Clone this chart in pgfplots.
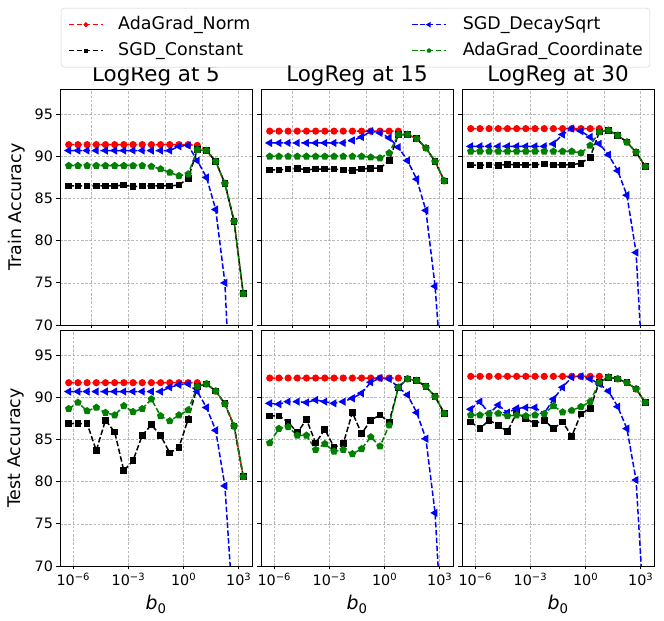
\documentclass[border=0pt]{standalone}
\usepackage{pgfplots}
\pgfplotsset{compat=1.18}
\usepackage{pgfplotstable}
\usepgfplotslibrary{groupplots}
\usetikzlibrary{plotmarks}
\usepackage{fontspec}
\setmainfont{DejaVu Sans}
\definecolor{mplgreen}{RGB}{0,128,0}
\definecolor{mplblue}{RGB}{0,0,255}
\definecolor{mplred}{RGB}{255,0,0}

% x = log10(b0); columns: AdaGrad_Norm (r), SGD_Constant (k), SGD_DecaySqrt (b), AdaGrad_Coordinate (g)
\pgfplotstableread{
x     r     k     b     g
-6.25 91.4  86.5  90.7  88.9
-5.75 91.4  86.5  90.7  88.9
-5.25 91.4  86.5  90.7  88.9
-4.75 91.4  86.5  90.7  88.9
-4.25 91.4  86.5  90.7  88.9
-3.75 91.4  86.5  90.7  88.9
-3.25 91.4  86.6  90.7  88.9
-2.75 91.4  86.4  90.7  88.9
-2.25 91.4  86.5  90.7  88.9
-1.75 91.4  86.5  90.7  88.8
-1.25 91.4  86.5  90.7  88.5
-0.75 91.4  86.5  90.7  88.1
-0.25 91.4  86.6  91.2  87.7
0.25  91.4  87.4  91.3  87.9
0.75  91.3  90.8  89.5  90.8
1.25  90.7  90.7  87.5  90.7
1.75  89.4  89.4  83.7  89.4
2.25  86.8  86.8  75.0  86.8
2.75  82.3  82.3  52    82.3
3.25  73.7  73.7  40    73.7
}\trainA
\pgfplotstableread{
x     r     k     b     g
-6.25 93.0  88.4  91.6  90.0
-5.75 93.0  88.4  91.6  90.0
-5.25 93.0  88.5  91.6  90.0
-4.75 93.0  88.6  91.6  90.0
-4.25 93.0  88.4  91.6  90.0
-3.75 93.0  88.5  91.6  90.0
-3.25 93.0  88.5  91.6  90.0
-2.75 93.0  88.5  91.6  90.0
-2.25 93.0  88.4  91.6  90.0
-1.75 93.0  88.3  91.9  90.0
-1.25 93.0  88.5  92.3  90.0
-0.75 93.0  88.6  93.0  89.9
-0.25 93.0  88.6  92.8  89.8
0.25  93.0  89.5  92.2  90.4
0.75  93.0  92.6  91.1  92.6
1.25  92.6  92.6  89.5  92.6
1.75  92.1  92.1  87.3  92.1
2.25  91.0  91.0  83.6  91.0
2.75  89.4  89.4  74.6  89.4
3.25  87.1  87.1  60    87.1
}\trainB
\pgfplotstableread{
x     r     k     b     g
-6.25 93.3  89.0  91.2  90.6
-5.75 93.3  88.95 91.2  90.6
-5.25 93.3  89.0  91.2  90.6
-4.75 93.3  88.95 91.2  90.6
-4.25 93.3  89.05 91.2  90.6
-3.75 93.3  89.0  91.2  90.6
-3.25 93.3  89.0  91.2  90.6
-2.75 93.3  89.0  91.2  90.6
-2.25 93.3  89.1  91.2  90.6
-1.75 93.3  89.0  91.5  90.6
-1.25 93.3  89.0  92.6  90.6
-0.75 93.3  89.0  93.3  90.6
-0.25 93.3  89.2  93.0  90.4
0.25  93.3  89.9  92.3  91.3
0.75  93.3  92.9  91.5  92.9
1.25  93.1  93.1  90.2  93.1
1.75  92.5  92.5  88.3  92.5
2.25  91.7  91.7  85.4  91.7
2.75  90.5  90.5  78.6  90.5
3.25  88.8  88.8  59    88.8
}\trainC
\pgfplotstableread{
x     r     k     b     g
-6.25 91.75 86.9  90.7  88.65
-5.75 91.75 86.9  90.7  89.4
-5.25 91.75 86.9  90.7  88.4
-4.75 91.75 83.7  90.7  88.8
-4.25 91.75 87.3  90.7  88.2
-3.75 91.75 85.9  90.7  87.9
-3.25 91.75 81.3  90.7  89.0
-2.75 91.75 82.5  90.7  88.3
-2.25 91.75 85.5  90.7  88.65
-1.75 91.75 86.75 90.7  89.8
-1.25 91.75 85.5  90.7  87.8
-0.75 91.75 83.4  91.2  87.2
-0.25 91.75 84.1  91.5  87.9
0.25  91.75 87.4  91.6  88.5
0.75  91.75 91.3  90.7  91.3
1.25  91.6  91.6  88.8  91.6
1.75  90.75 90.75 86.1  90.75
2.25  89.25 89.25 79.5  89.25
2.75  86.6  86.6  63    86.6
3.25  80.6  80.6  50    80.6
}\testA
\pgfplotstableread{
x     r     k     b     g
-6.25 92.3  87.8  89.3  84.6
-5.75 92.3  87.8  89.2  86.3
-5.25 92.3  87.1  89.5  86.5
-4.75 92.3  85.8  89.5  85.5
-4.25 92.3  87.4  89.4  85.5
-3.75 92.3  84.6  89.7  83.8
-3.25 92.3  86.2  89.5  84.5
-2.75 92.3  84.1  89.3  83.6
-2.25 92.3  84.5  89.5  83.8
-1.75 92.3  88.2  89.9  83.3
-1.25 92.3  85.7  90.5  83.9
-0.75 92.3  87.3  91.8  85.3
-0.25 92.3  87.9  92.3  84.2
0.25  92.3  87.1  92.2  86.7
0.75  92.3  91.2  91.2  91.2
1.25  92.2  92.2  90.3  92.2
1.75  92.0  92.0  88.2  92.0
2.25  91.3  91.3  85.1  91.3
2.75  90.1  90.1  76.3  90.1
3.25  88.1  88.1  57    88.1
}\testB
\pgfplotstableread{
x     r     k     b     g
-6.25 92.5  87.1  88.6  87.9
-5.75 92.5  86.3  89.5  87.9
-5.25 92.5  87.3  88.1  88.05
-4.75 92.5  86.7  89.1  88.1
-4.25 92.5  85.95 88.2  87.8
-3.75 92.5  88.2  88.7  87.9
-3.25 92.5  87.5  88.8  87.8
-2.75 92.5  86.9  88.8  87.9
-2.25 92.5  87.3  88.1  88.05
-1.75 92.5  86.3  89.8  89.0
-1.25 92.5  87.1  91.2  88.25
-0.75 92.5  85.4  92.4  88.45
-0.25 92.5  88.05 92.5  88.9
0.25  92.5  88.7  92.2  89.5
0.75  92.5  91.8  91.6  91.8
1.25  92.4  92.4  90.75 92.4
1.75  92.2  92.2  88.9  92.2
2.25  91.75 91.75 86.3  91.75
2.75  91.0  91.0  80.2  91.0
3.25  89.4  89.4  62    89.4
}\testC

\pgfplotsset{
  ser/.style={line width=1.5bp, dash pattern=on 5.5bp off 2.4bp, mark options={solid}},
  sr/.style={ser, color=mplred, mark=*, mark size=2.8bp},
  sk/.style={ser, color=black, mark=square*, mark size=2.6bp},
  sb/.style={ser, color=mplblue, mark=triangle*, mark size=3.3bp, mark options={solid, rotate=90}},
  sg/.style={ser, color=mplgreen, mark=pentagon*, mark size=3bp},
  panel/.style={
    width=192bp, height=236bp, scale only axis,
    xmin=-6.725, xmax=3.725, ymin=70, ymax=98,
    ytick={70,75,...,95},
    grid=major,
    grid style={dash pattern=on 2.6bp off 1.6bp, color=black!28, line width=0.6bp},
    axis line style={black, line width=0.8bp},
    tick align=outside, xtick pos=bottom, ytick pos=left,
    major tick length=3.5bp,
    tick style={black, line width=0.8bp},
    tick label style={font=\fontsize{14.4}{17}\selectfont},
    /pgf/number format/assume math mode=true,
    title style={font=\fontsize{21.5}{25}\selectfont, inner sep=0pt, yshift=-3bp},
    ylabel style={font=\fontsize{17.5}{21}\selectfont, inner sep=0pt, at={(axis description cs:-0.228,0.5)}, anchor=center},
    xlabel style={font=\fontsize{19}{23}\selectfont, inner sep=0pt, at={(axis description cs:0.5,-0.161)}, anchor=center},
  },
  toprow/.style={panel, xtick={-5,-3,-1,1,3}, xticklabels={}},
  botrow/.style={panel, xtick={-6,-3,0,3},
    xticklabels={10\textsuperscript{−6},10\textsuperscript{−3},10\textsuperscript{0},10\textsuperscript{3}},
    xlabel={\textit{b}\textsubscript{0}}},
}

\begin{document}
\begin{tikzpicture}
\begin{groupplot}[
  group style={group size=3 by 2, horizontal sep=9bp, vertical sep=5bp,
    y descriptions at=edge left},
]
\nextgroupplot[toprow, title={LogReg at 5}, ylabel={Train Accuracy},
  legend columns=2, legend cell align=left,
  legend style={at={(0,1)}, anchor=north west, xshift=1bp, yshift=81bp,
    draw=black!20, rounded corners=3bp, fill=white,
    font=\fontsize{17.5}{21}\selectfont,
    inner xsep=7bp, inner ysep=8.5bp, row sep=10bp,
    nodes={inner sep=0pt, text height=12.5bp, text depth=3.5bp},
    /tikz/column 1/.style={column sep=14.5bp},
    /tikz/column 2/.style={column sep=161bp},
    /tikz/column 3/.style={column sep=16bp}},
  legend image code/.code={\draw[mark repeat=2,mark phase=2] plot coordinates {(0bp,0bp) (17bp,0bp) (34bp,0bp)};},
]
\addlegendimage{sr, mark size=1.6bp}
\addlegendentry{AdaGrad\_Norm}
\addlegendimage{sb, mark size=1.8bp}
\addlegendentry{SGD\_DecaySqrt}
\addlegendimage{sk, mark size=1.4bp}
\addlegendentry{SGD\_Constant}
\addlegendimage{sg, mark size=1.6bp}
\addlegendentry{AdaGrad\_Coordinate}
\addplot[sr, forget plot] table[y=r] {\trainA};
\addplot[sk, forget plot] table[y=k] {\trainA};
\addplot[sb, forget plot] table[y=b] {\trainA};
\addplot[sg, forget plot] table[y=g] {\trainA};

\nextgroupplot[toprow, title={LogReg at 15}]
\addplot[sr] table[y=r] {\trainB};
\addplot[sk] table[y=k] {\trainB};
\addplot[sb] table[y=b] {\trainB};
\addplot[sg] table[y=g] {\trainB};

\nextgroupplot[toprow, title={LogReg at 30}]
\addplot[sr] table[y=r] {\trainC};
\addplot[sk] table[y=k] {\trainC};
\addplot[sb] table[y=b] {\trainC};
\addplot[sg] table[y=g] {\trainC};

\nextgroupplot[botrow, ylabel={Test Accuracy}]
\addplot[sr] table[y=r] {\testA};
\addplot[sk] table[y=k] {\testA};
\addplot[sb] table[y=b] {\testA};
\addplot[sg] table[y=g] {\testA};

\nextgroupplot[botrow]
\addplot[sr] table[y=r] {\testB};
\addplot[sk] table[y=k] {\testB};
\addplot[sb] table[y=b] {\testB};
\addplot[sg] table[y=g] {\testB};

\nextgroupplot[botrow]
\addplot[sr] table[y=r] {\testC};
\addplot[sk] table[y=k] {\testC};
\addplot[sb] table[y=b] {\testC};
\addplot[sg] table[y=g] {\testC};
\end{groupplot}
\pgfresetboundingbox
\path[use as bounding box] ([xshift=-60bp,yshift=89bp]group c1r1.north west) rectangle ([xshift=604bp,yshift=-532bp]group c1r1.north west);
\end{tikzpicture}
\end{document}
